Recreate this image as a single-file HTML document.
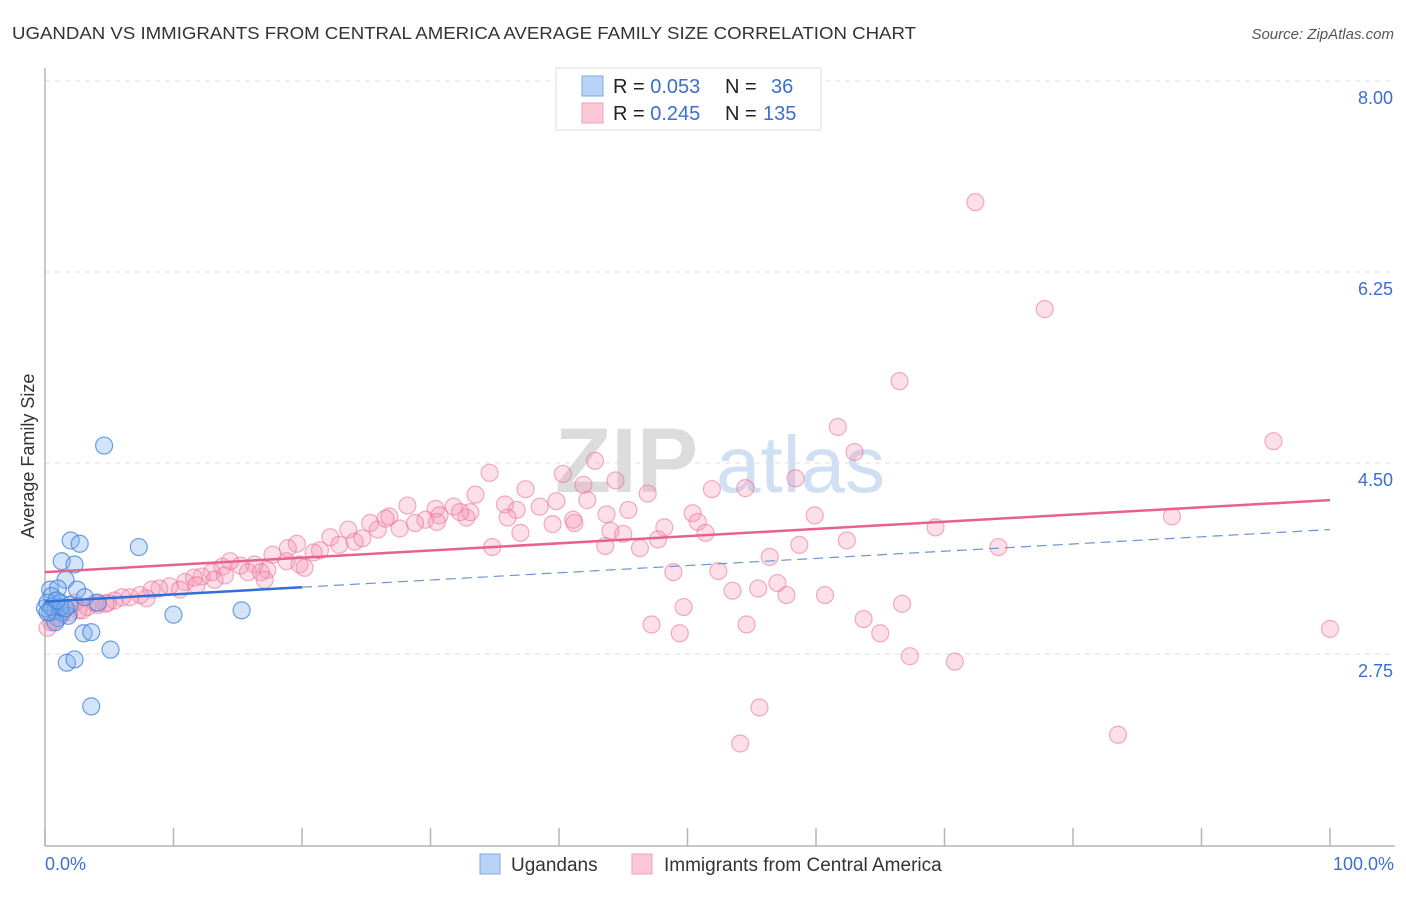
<!DOCTYPE html>
<html><head><meta charset="utf-8"><style>
body{margin:0;background:#fff;}
svg text{font-family:"Liberation Sans",sans-serif;}
</style></head><body>
<svg id="chart" width="1406" height="892" xmlns="http://www.w3.org/2000/svg">
<text x="12" y="39" font-size="17.5" fill="#333" textLength="904" lengthAdjust="spacingAndGlyphs">UGANDAN VS IMMIGRANTS FROM CENTRAL AMERICA AVERAGE FAMILY SIZE CORRELATION CHART</text>
<text x="1394" y="39" font-size="15" fill="#555" font-style="italic" text-anchor="end">Source: ZipAtlas.com</text>
<g>
<text x="555" y="492" font-size="92" fill="#dcdcdc" font-family="Liberation Serif,serif" font-weight="bold">ZIP</text>
<text x="716" y="492" font-size="80" fill="#cfe0f3">atlas</text>
</g>
<g id="grid"></g>
<line x1="45" y1="68" x2="45" y2="846" stroke="#b5b5b5" stroke-width="1.5"/>
<line x1="45" y1="846" x2="1395" y2="846" stroke="#b5b5b5" stroke-width="1.5"/>
<g id="ticks"></g>
<g id="ylabels"></g>
<text transform="translate(34,456) rotate(-90)" font-size="18" fill="#333" text-anchor="middle">Average Family Size</text>
<text x="45" y="870" font-size="18" fill="#3a6fd0">0.0%</text>
<text x="1394" y="870" font-size="18" fill="#3a6fd0" text-anchor="end">100.0%</text>
<g id="pink"></g>
<g id="blue"></g>
<g id="trends"></g>
<g>
<rect x="556" y="68" width="265" height="62" fill="#fff" stroke="#ddd"/>
<rect x="582" y="76" width="21" height="20" fill="#b8d3f5" stroke="#7aa8e6"/>
<rect x="582" y="103" width="21" height="20" fill="#fcc8d8" stroke="#f0a0b8"/>
<text x="613" y="93" font-size="20" fill="#222">R = <tspan fill="#3a6fd0">0.053</tspan><tspan x="725">N =</tspan><tspan x="771" fill="#3a6fd0">36</tspan></text>
<text x="613" y="120" font-size="20" fill="#222">R = <tspan fill="#3a6fd0">0.245</tspan><tspan x="725">N =</tspan><tspan x="763" fill="#3a6fd0">135</tspan></text>
</g>
<g>
<g><rect x="480" y="854" width="20" height="20" fill="#b8d3f5" stroke="#7aa8e6"/><text x="511" y="871" font-size="19" fill="#333">Ugandans</text></g>
<g><rect x="632" y="854" width="20" height="20" fill="#fcc8d8" stroke="#f0a0b8"/><text x="664" y="871" font-size="19" fill="#333">Immigrants from Central America</text></g>
</g>
</svg>
<script>
const yTicks=[8.00,6.25,4.50,2.75];
const yTickLabels=["8.00","6.25","4.50","2.75"];
const xTicks=[0,10,20,30,40,50,60,70,80,90,100];
const blueX=[4.6,2.0,2.7,1.3,2.3,7.3,1.6,0.4,1.0,2.5,0.5,3.1,4.1,1.2,0,0.4,0.8,1.3,1.0,1.8,0.2,10.0,15.3,3.0,3.6,5.1,1.7,2.3,3.6,0.8,1.9,0.5,1.2,0.2,1.6,0.9];
const blueY=[4.66,3.79,3.76,3.60,3.57,3.73,3.43,3.34,3.35,3.34,3.28,3.27,3.22,3.22,3.17,3.13,3.15,3.13,3.08,3.10,3.22,3.11,3.15,2.94,2.95,2.79,2.67,2.70,2.27,3.04,3.20,3.18,3.18,3.13,3.17,3.24];
const pinkX=[72.4,77.8,66.5,61.7,63.0,95.6,34.6,42.8,40.3,44.4,37.4,33.5,41.9,46.9,54.5,51.9,58.4,28.2,30.4,31.8,35.8,36.7,38.5,39.8,42.2,45.4,43.7,50.4,59.9,87.7,69.3,30.7,32.8,26.8,29.6,25.3,27.6,25.9,23.6,22.2,22.9,24.1,24.7,19.6,18.9,21.4,17.7,20.9,18.8,19.8,20.2,17.3,16.3,15.2,14.4,13.8,15.8,16.8,13.0,12.2,10.9,11.6,9.7,8.9,8.3,7.9,7.4,6.6,6.0,5.4,4.9,4.1,3.3,2.6,1.9,1.3,0.8,0.2,0.5,1.2,2.3,2.9,3.9,4.7,37.0,39.5,41.2,44.0,45.0,48.2,50.8,51.4,34.8,43.6,46.3,47.7,41.1,33.1,48.9,52.4,56.4,58.7,62.4,74.2,53.5,55.5,57.0,57.7,60.7,49.7,63.7,66.7,47.2,49.4,54.6,65.0,67.3,70.8,100,55.6,54.1,83.5,26.5,28.8,32.3,36.0,30.5,13.2,17.1,10.5,14.0,11.8];
const pinkY=[6.89,5.91,5.25,4.83,4.60,4.70,4.41,4.52,4.40,4.34,4.26,4.21,4.30,4.22,4.27,4.26,4.36,4.11,4.08,4.10,4.12,4.07,4.10,4.15,4.16,4.07,4.03,4.04,4.02,4.01,3.91,4.02,4.00,4.01,3.98,3.95,3.90,3.89,3.89,3.82,3.75,3.78,3.81,3.76,3.72,3.70,3.66,3.68,3.60,3.57,3.54,3.52,3.57,3.56,3.60,3.55,3.50,3.50,3.50,3.46,3.41,3.45,3.37,3.35,3.34,3.26,3.29,3.27,3.27,3.24,3.22,3.20,3.18,3.15,3.13,3.11,3.06,2.99,3.04,3.14,3.22,3.15,3.22,3.21,3.86,3.94,3.95,3.88,3.85,3.91,3.96,3.86,3.73,3.74,3.72,3.80,3.98,4.05,3.50,3.51,3.64,3.75,3.79,3.73,3.33,3.35,3.40,3.29,3.29,3.18,3.07,3.21,3.02,2.94,3.02,2.94,2.73,2.68,2.98,2.26,1.93,2.01,3.99,3.95,4.05,4.00,3.96,3.43,3.43,3.34,3.47,3.38];
const blueTrend=[3.23,3.89];
const pinkTrend=[3.50,4.16];
const NS="http://www.w3.org/2000/svg";
function sx(p){return 45+p*12.85;}
function sy(v){return 463-(v-4.5)*109.14;}
function mk(tag,attrs,parent){const e=document.createElementNS(NS,tag);for(const k in attrs)e.setAttribute(k,attrs[k]);parent.appendChild(e);return e;}
const grid=document.getElementById('grid'),yl=document.getElementById('ylabels'),tk=document.getElementById('ticks');
yTicks.forEach((v,i)=>{
 const l=mk('line',{x1:45,x2:1395,y1:sy(v),y2:sy(v),stroke:'#ddd','stroke-dasharray':'5,5'},grid);
 
 
 const t=mk('text',{x:1393,y:sy(v)+23,'font-size':18,fill:'#3a6fd0','text-anchor':'end'},yl);
 t.textContent=yTickLabels[i];
 
 
});
xTicks.forEach(p=>{
 const l=mk('line',{x1:sx(p),x2:sx(p),y1:828,y2:846,stroke:'#b5b5b5','stroke-width':1.5},tk);
 
 
});
const pg=document.getElementById('pink');
pinkX.forEach((x,i)=>{
 const c=mk('circle',{cx:sx(x),cy:sy(pinkY[i]),r:8.5,fill:'rgba(245,150,180,0.3)',stroke:'rgba(232,110,150,0.55)','stroke-width':1.2},pg);
 
 
});
const bg=document.getElementById('blue');
blueX.forEach((x,i)=>{
 const c=mk('circle',{cx:sx(x),cy:sy(blueY[i]),r:8.5,fill:'rgba(130,175,235,0.35)',stroke:'rgba(60,130,220,0.75)','stroke-width':1.2},bg);
 
 
});
const tr=document.getElementById('trends');
function bAt(p){return blueTrend[0]+(blueTrend[1]-blueTrend[0])*p/100;}
const b1=mk('line',{x1:sx(0),y1:sy(bAt(0)),x2:sx(20),y2:sy(bAt(20)),stroke:'#2f6fd6','stroke-width':2.5},tr);


const b2=mk('line',{x1:sx(20),y1:sy(bAt(20)),x2:sx(100),y2:sy(bAt(100)),stroke:'#6a95d8','stroke-width':1.2,'stroke-dasharray':'10,6'},tr);


const p1=mk('line',{x1:sx(0),y1:sy(pinkTrend[0]),x2:sx(100),y2:sy(pinkTrend[1]),stroke:'#e8608e','stroke-width':2.5},tr);


</script>
</body></html>
